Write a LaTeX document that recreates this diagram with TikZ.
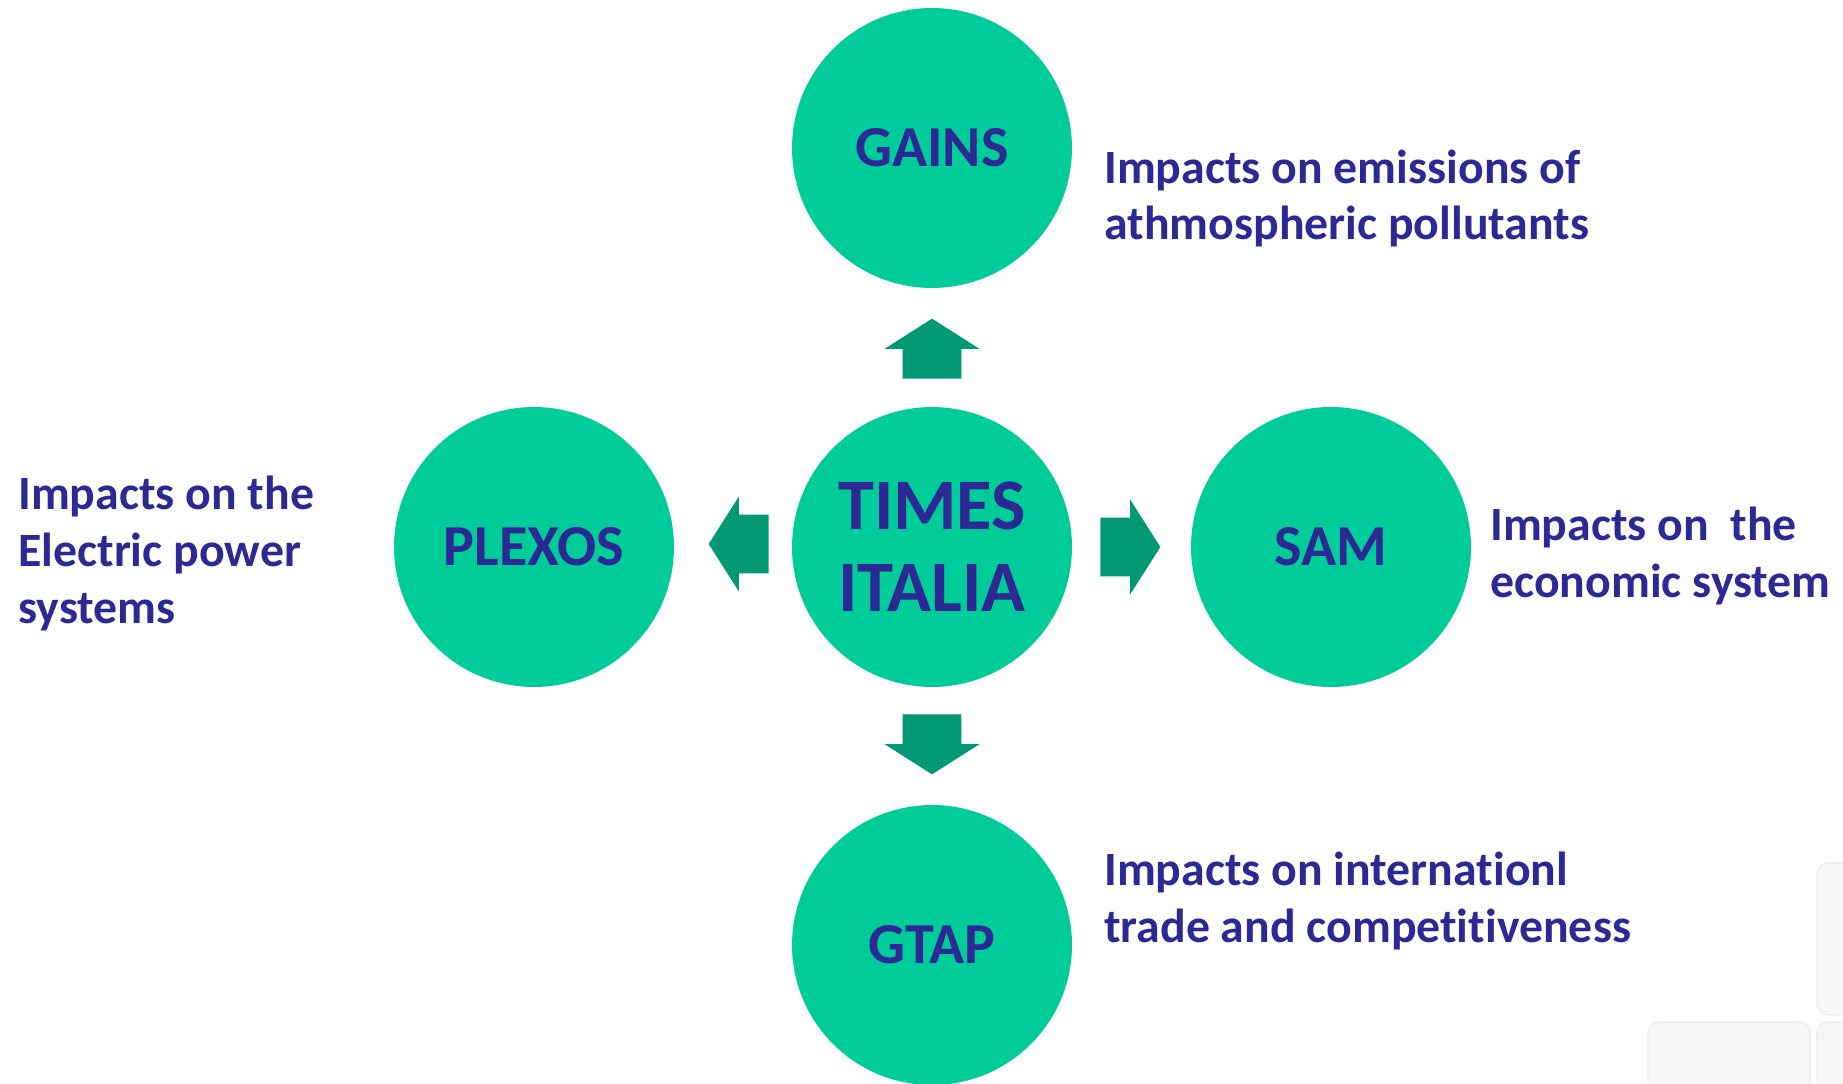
\documentclass[tikz,border=0pt]{standalone}
\usepackage{fontspec}
\setmainfont{Carlito}[Ligatures=NoCommon]
\usetikzlibrary{shapes.arrows}

\definecolor{modelgreen}{RGB}{0,204,153}
\definecolor{flowgreen}{RGB}{0,153,115}
\definecolor{inkblue}{RGB}{44,40,148}
\definecolor{tilegray}{RGB}{245,246,246}
\definecolor{tileedge}{RGB}{234,236,236}

\tikzset{
  model/.style={circle, fill=modelgreen, minimum size=5.6cm, inner sep=0pt,
    text=inkblue, align=center, font=\bfseries\fontsize{33}{37}\selectfont},
  flow/.style={single arrow, fill=flowgreen, inner xsep=0pt, inner ysep=0.58cm,
    minimum height=1.2cm, minimum width=1.9cm,
    single arrow head extend=0.36cm, single arrow tip angle=115},
  impact/.style={text=inkblue, align=left, anchor=base west, inner sep=0pt,
    font=\bfseries\fontsize{27.2}{32.4}\selectfont},
  tile/.style={fill=tilegray, draw=tileedge, line width=0.6pt, rounded corners=6pt},
}

\begin{document}
\begin{tikzpicture}[x=0.02cm, y=-0.02cm]
\useasboundingbox (0,0) rectangle (1843,1084);

% tiles in the lower right corner
\draw[tile] (1648,1022) rectangle (1810,1110);
\draw[tile] (1817,863) rectangle (1870,1015);
\draw[tile] (1817,1022) rectangle (1870,1110);

% models
\node[model, font=\bfseries\fontsize{41.3}{46.5}\selectfont] (times) at (932,547) {TIMES\\ITALIA};
\node[model] (gains) at (932,148) {GAINS};
\node[model] (plexos) at (534,547) {PLEXOS};
\node[model] (sam) at (1331,547) {SAM};
\node[model] (gtap) at (932,945) {GTAP};

% block arrows out of TIMES
\node[flow, rotate=90] (toGains) at (932,358) {};
\node[flow, rotate=180] (toPlexos) at (748,544) {};
\node[flow] (toSam) at (1121,547) {};
\node[flow, rotate=-90] (toGtap) at (932,735) {};

% impact labels (anchored on the last line)
\node[impact] (gainsTxt) at (1104,240) {Impacts on emissions of\\athmospheric pollutants};
\node[impact] (plexosTxt) at (18,623) {Impacts on the\\Electric power\\systems};
\node[impact] (samTxt) at (1490,597) {Impacts on\ \ the\\economic system};
\node[impact] (gtapTxt) at (1104,942) {Impacts on internationl\\trade and competitiveness};

\end{tikzpicture}
\end{document}
